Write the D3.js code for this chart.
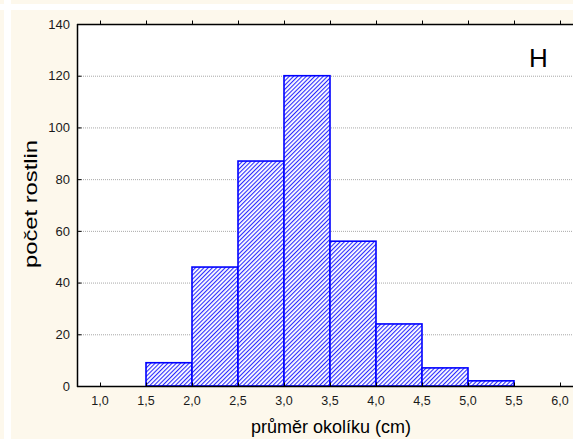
<!DOCTYPE html>
<html>
<head>
<meta charset="utf-8">
<script src="https://cdn.jsdelivr.net/npm/d3@7"></script>
<style>
  html, body { margin: 0; padding: 0; background: #fdf8ec; }
  svg { display: block; font-family: "Liberation Sans", Arial, sans-serif; }
</style>
</head>
<body>
<svg id="chart" width="573" height="439"></svg>
<script>
// Histogram bins (lower edge, upper edge) and counts
const binStarts = [1.0, 1.5, 2.0, 2.5, 3.0, 3.5, 4.0, 4.5, 5.0, 5.5];
const binEnds   = [1.5, 2.0, 2.5, 3.0, 3.5, 4.0, 4.5, 5.0, 5.5, 6.0];
const counts    = [0, 9, 46, 87, 120, 56, 24, 7, 2, 0];
const xTicks    = [1.0, 1.5, 2.0, 2.5, 3.0, 3.5, 4.0, 4.5, 5.0, 5.5, 6.0];
const yTicks    = [0, 20, 40, 60, 80, 100, 120, 140];
const xTitle = "průměr okolíku (cm)";
const yTitle = "počet rostlin";
const panelLabel = "H";

const W = 573, H = 439;
const svg = d3.select("#chart");

// background frame with white stripes
svg.append("rect").attr("width", W).attr("height", H).attr("fill", "#fdf8ec");
svg.append("rect").attr("x", 4).attr("y", 0).attr("width", 7).attr("height", H).attr("fill", "#ffffff");
svg.append("rect").attr("x", 0).attr("y", 4).attr("width", W).attr("height", 6).attr("fill", "#ffffff");

const plot = { left: 77, top: 24, bottom: 386 };
const x = d3.scaleLinear().domain([0.75, 6.25]).range([plot.left, plot.left + 5.5 * 92]);
const y = d3.scaleLinear().domain([0, 140]).range([plot.bottom, plot.top]);

// white plot area
svg.append("rect")
  .attr("x", plot.left).attr("y", plot.top)
  .attr("width", W - plot.left).attr("height", plot.bottom - plot.top)
  .attr("fill", "#ffffff");

// hatch pattern
const defs = svg.append("defs");
const pat = defs.append("pattern")
  .attr("id", "hatch").attr("patternUnits", "userSpaceOnUse")
  .attr("width", 3).attr("height", 3)
  .attr("patternTransform", "rotate(45)");
pat.append("rect").attr("width", 3).attr("height", 3).attr("fill", "#ffffff");
pat.append("line").attr("x1", 0).attr("y1", 0).attr("x2", 0).attr("y2", 3)
  .attr("stroke", "#2a2aff").attr("stroke-width", 2.2);

// dotted grid lines
svg.append("g").selectAll("line")
  .data(yTicks.filter(d => d > 0 && d < 140))
  .join("line")
  .attr("x1", plot.left).attr("x2", W)
  .attr("y1", d => y(d) + 0.5).attr("y2", d => y(d) + 0.5)
  .attr("stroke", "#a8a8a8").attr("stroke-width", 1)
  .attr("stroke-dasharray", "1,1");

// bars
svg.append("g").selectAll("rect")
  .data(counts.map((c, i) => ({ x0: binStarts[i], x1: binEnds[i], c })))
  .join("rect")
  .attr("x", d => x(d.x0))
  .attr("y", d => y(d.c))
  .attr("width", d => x(d.x1) - x(d.x0))
  .attr("height", d => y(0) - y(d.c))
  .attr("fill", "url(#hatch)")
  .attr("stroke", "#0000ff").attr("stroke-width", 1.6);

// axes frame
const axisColor = "#000000";
svg.append("line").attr("x1", plot.left + 0.5).attr("x2", plot.left + 0.5)
  .attr("y1", plot.top).attr("y2", plot.bottom + 1).attr("stroke", axisColor).attr("stroke-width", 1.5);
svg.append("line").attr("x1", plot.left).attr("x2", W)
  .attr("y1", plot.top + 0.5).attr("y2", plot.top + 0.5).attr("stroke", axisColor).attr("stroke-width", 1.5);
svg.append("line").attr("x1", plot.left).attr("x2", W)
  .attr("y1", plot.bottom + 0.5).attr("y2", plot.bottom + 0.5).attr("stroke", axisColor).attr("stroke-width", 1.5);

// y axis ticks (inward) and labels
const fmtX = d => d3.format(".1f")(d).replace(".", ",");
const yAxis = d3.axisRight(y).tickValues(yTicks).tickSize(4).tickFormat("");
svg.append("g").attr("transform", `translate(${plot.left + 0.5},0)`).call(yAxis)
  .call(g => g.select(".domain").remove())
  .call(g => g.selectAll("line").attr("stroke", axisColor));
svg.append("g").selectAll("text").data(yTicks).join("text")
  .attr("x", 70).attr("y", d => y(d)).attr("dy", "0.36em")
  .attr("text-anchor", "end").attr("font-size", 13).attr("fill", "#1a1a1a")
  .text(d => d);

// x axis ticks: bottom (inward) and top (outward)
const xAxisB = d3.axisTop(x).tickValues(xTicks).tickSize(4).tickFormat("");
svg.append("g").attr("transform", `translate(0,${plot.bottom + 0.5})`).call(xAxisB)
  .call(g => g.select(".domain").remove())
  .call(g => g.selectAll("line").attr("stroke", axisColor));
const xAxisT = d3.axisTop(x).tickValues(xTicks).tickSize(4).tickFormat("");
svg.append("g").attr("transform", `translate(0,${plot.top + 0.5})`).call(xAxisT)
  .call(g => g.select(".domain").remove())
  .call(g => g.selectAll("line").attr("stroke", axisColor));
svg.append("g").selectAll("text").data(xTicks).join("text")
  .attr("x", d => x(d)).attr("y", 404.5)
  .attr("text-anchor", "middle").attr("font-size", 12.5).attr("fill", "#1a1a1a")
  .text(fmtX);

// titles
svg.append("text").attr("x", 331).attr("y", 433)
  .attr("text-anchor", "middle").attr("font-size", 18).attr("fill", "#000")
  .text(xTitle);
svg.append("text").attr("transform", "translate(37,204) rotate(-90) scale(1.25,1)")
  .attr("text-anchor", "middle").attr("font-size", 19).attr("fill", "#000")
  .text(yTitle);
svg.append("text").attr("x", 538.5).attr("y", 67)
  .attr("text-anchor", "middle").attr("font-size", 26).attr("fill", "#000")
  .text(panelLabel);
</script>
</body>
</html>
